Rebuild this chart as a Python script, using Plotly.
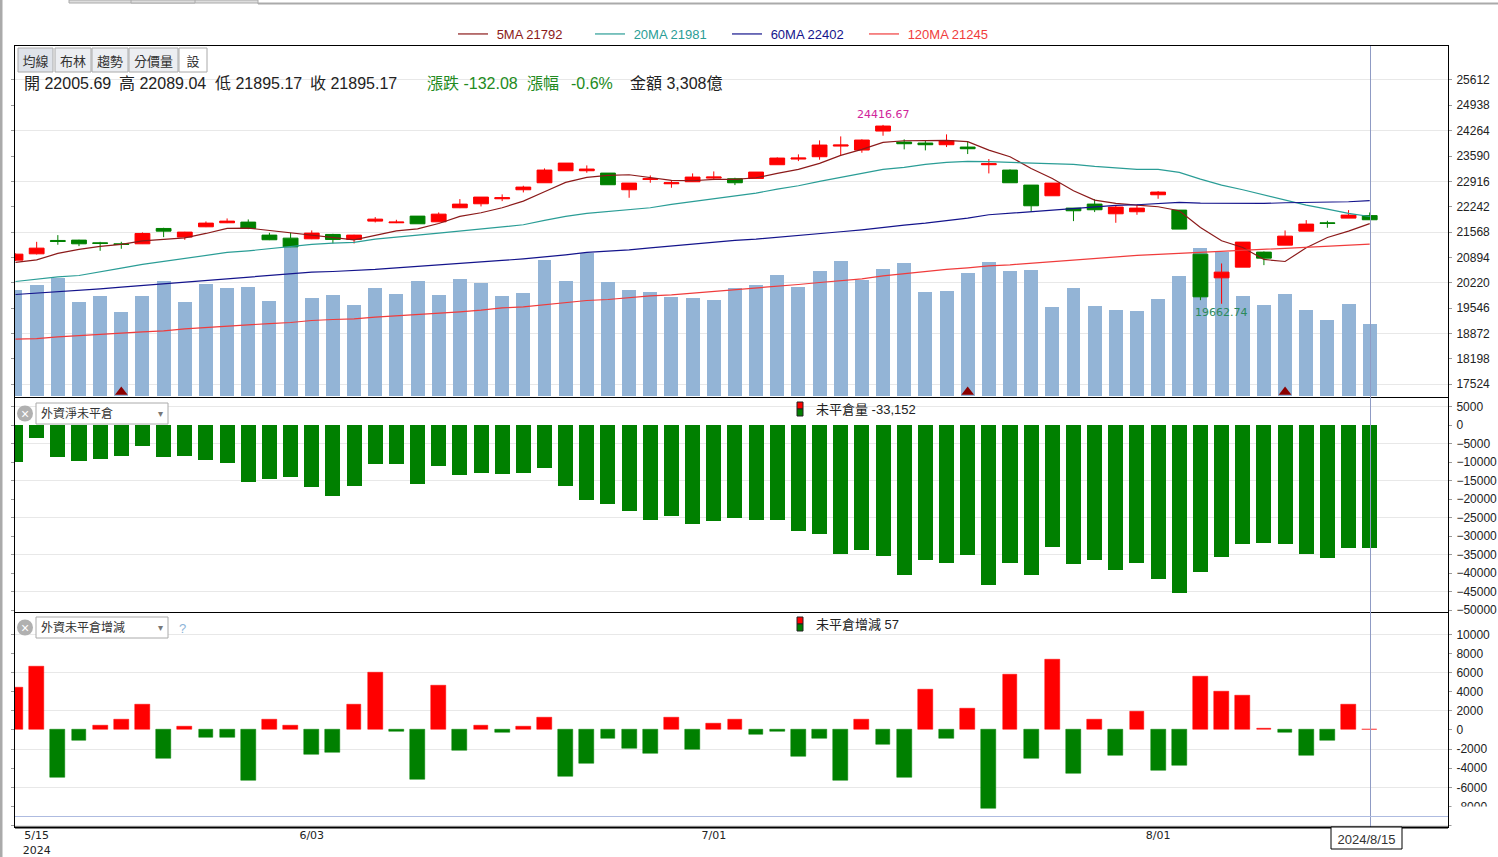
import plotly.graph_objects as go

W, H = 1498, 857

# daily index OHLC, 5/14 to 8/15 (trading session number on the x axis)
open_vals = [20822, 20990, 21345, 21354, 21283, 21256, 21256, 21664, 21434, 21708, 21815, 21833, 21487,
             21407, 21389, 21505, 21372, 21859, 21815, 21992, 21841, 22214, 22320, 22453, 22693, 22879,
             23198, 23198, 23136, 22693, 22968, 22852, 22906, 23003, 22985, 22994, 23358, 23509, 23571,
             23854, 23748, 24253, 23961, 23934, 23890, 23828, 23358, 23216, 22817, 22533, 22205, 22312,
             22054, 22108, 22560, 22152, 20981, 20352, 20636, 21035, 21221, 21593, 21815, 21939, 22005.69]
high_vals = [20999, 21309, 21487, 21363, 21309, 21309, 21558, 21682, 21575, 21850, 21930, 21904, 21549,
             21549, 21611, 21522, 21496, 21966, 21895, 21992, 22090, 22444, 22498, 22569, 22799, 23260,
             23402, 23340, 23136, 22870, 23074, 22950, 23127, 23180, 23012, 23163, 23553, 23633, 24005,
             24111, 24032, 24416.67, 24032, 23996, 24165, 23978, 23509, 23234, 22817, 22870, 22205, 22445,
             22285, 22294, 22657, 22152, 20981, 20733, 21301, 21052, 21611, 21886, 21868, 22152, 22089.04]
low_vals = [20804, 20973, 21230, 21194, 21070, 21123, 21250, 21434, 21363, 21700, 21806, 21646, 21354,
            21168, 21380, 21265, 21265, 21824, 21806, 21788, 21833, 22205, 22249, 22391, 22622, 22879,
            23198, 23145, 22826, 22480, 22879, 22746, 22906, 22950, 22817, 22994, 23358, 23455, 23491,
            23606, 23677, 24129, 23766, 23739, 23828, 23642, 23127, 22879, 22108, 22533, 21859, 22099,
            21815, 22028, 22453, 21647, 19758, 19662.74, 20636, 20689, 21221, 21593, 21682, 21939, 21895.17]
close_vals = [20981, 21141, 21318, 21256, 21265, 21238, 21531, 21593, 21567, 21806, 21859, 21664, 21363,
              21176, 21540, 21372, 21487, 21912, 21833, 21788, 22045, 22311, 22498, 22480, 22764, 23216,
              23402, 23243, 22826, 22870, 22985, 22879, 23030, 23030, 22879, 23163, 23535, 23535, 23881,
              23881, 24014, 24386, 23916, 23890, 23996, 23783, 23384, 22879, 22267, 22870, 22134, 22161,
              22232, 22205, 22631, 21647, 19847, 20503, 21301, 20875, 21460, 21780, 21797, 22019, 21895.17]

ma5 = [20760, 20831, 21000, 21106, 21186, 21239, 21336, 21381, 21416, 21531, 21664, 21673, 21611,
       21567, 21505, 21425, 21363, 21478, 21602, 21655, 21797, 21984, 22081, 22214, 22391, 22640,
       22888, 23021, 23074, 23092, 23021, 22941, 22932, 22968, 22968, 23012, 23127, 23234, 23393,
       23606, 23766, 23952, 23996, 23996, 24005, 23970, 23748, 23571, 23260, 22994, 22666, 22418,
       22329, 22285, 22241, 22134, 21691, 21336, 21159, 20840, 20786, 21150, 21425, 21593, 21792]
ma20 = [20254, 20317, 20379, 20414, 20520, 20609, 20707, 20786, 20857, 20928, 21026, 21070, 21123,
        21194, 21239, 21274, 21292, 21381, 21443, 21487, 21540, 21593, 21647, 21709, 21762, 21877,
        21983, 22063, 22107, 22161, 22214, 22303, 22374, 22462, 22533, 22604, 22710, 22799, 22914,
        23021, 23127, 23234, 23287, 23367, 23420, 23447, 23438, 23420, 23402, 23393, 23367, 23313,
        23278, 23234, 23234, 23154, 22977, 22817, 22693, 22560, 22418, 22285, 22179, 22063, 21981]
ma60 = [19909, 19944, 19980, 20024, 20059, 20104, 20148, 20201, 20246, 20299, 20343, 20387, 20432,
        20476, 20503, 20520, 20538, 20574, 20618, 20653, 20689, 20733, 20778, 20813, 20857, 20902,
        20964, 21026, 21052, 21097, 21150, 21203, 21239, 21301, 21345, 21380, 21434, 21478, 21531,
        21576, 21629, 21700, 21753, 21806, 21868, 21939, 22028, 22072, 22116, 22152, 22196, 22232,
        22276, 22294, 22329, 22356, 22338, 22329, 22320, 22329, 22347, 22356, 22356, 22374, 22402]
ma120 = [18720, 18738, 18783, 18809, 18836, 18880, 18916, 18942, 18995, 19031, 19084, 19111, 19137,
         19164, 19217, 19244, 19261, 19306, 19341, 19359, 19412, 19448, 19492, 19554, 19580, 19642,
         19705, 19749, 19776, 19829, 19873, 19900, 19944, 19997, 20033, 20077, 20139, 20175, 20228,
         20272, 20325, 20405, 20467, 20520, 20574, 20618, 20671, 20698, 20742, 20786, 20831, 20866,
         20911, 20946, 20973, 20999, 21026, 21044, 21079, 21106, 21123, 21150, 21185, 21212, 21245]

# turnover, 億
volume = [4824, 5052, 5400, 4278, 4551, 3823, 4551, 5234, 4278, 5097, 4915, 4961, 4323,
          7100, 4460, 4597, 4141, 4915, 4642, 5234, 4597, 5325, 5143, 4566, 4718, 6220,
          5264, 6538, 5218, 4854, 4763, 4536, 4490, 4400, 4945, 5082, 5537, 4991, 5719,
          6174, 5310, 5810, 6083, 4763, 4809, 5628, 6129, 5719, 5765, 4081, 4945, 4126,
          3944, 3899, 4445, 5492, 6766, 6584, 4581, 4172, 4672, 3944, 3489, 4217, 3308]

net_oi = [-9910, -3420, -8560, -9640, -9100, -8290, -5590, -8560, -8290, -9370, -10180, -15320, -14500,
          -13970, -16670, -19100, -16400, -10450, -10450, -15860, -10990, -13420, -12880, -13150, -12880, -11530,
          -16400, -20180, -21260, -23160, -25590, -24510, -26670, -25860, -25050, -25590, -25590, -28560, -29370,
          -34780, -33700, -35320, -40450, -36400, -37210, -35050, -43160, -37210, -40450, -32890, -37480, -36400,
          -39100, -37210, -41540, -45320, -39640, -35590, -32080, -31810, -32080, -34780, -35860, -33209, -33152]

oi_change = [4500, 6600, -4990, -1117, 420, 1047, 2620, -3000, 314, -838, -838, -5300, 1047,
             420, -2580, -2370, 2720, 5970, -150, -5200, 4710, -2160, 520, -310, 314, 1360,
             -4890, -3520, -940, -1950, -2480, 1256, -2060, 630, 1047, -420, -130, -2790, -940,
             -5300, 1150, -1535, -4990, 4190, -940, 2300, -8170, 5860, -3000, 7430, -4570, 1150,
             -2690, 1885, -4190, -3730, 5650, 3980, 3660, 110, -210, -2690, -1150, 2720, 57]

sessions = list(range(len(close_vals)))
signal_sessions = [5, 45, 60]
signal_level = [17320, 17320, 17320]

price_ticks = [25612, 24938, 24264, 23590, 22916, 22242, 21568, 20894, 20220, 19546, 18872, 18198, 17524]
net_ticks = [5000, 0, -5000, -10000, -15000, -20000, -25000, -30000, -35000, -40000, -45000, -50000]
change_ticks = [10000, 8000, 6000, 4000, 2000, 0, -2000, -4000, -6000, -8000, -10000]
change_labels = ["10000", "8000", "6000", "4000", "2000", "0", "-2000", "-4000", "-6000", "-8000", ""]
date_ticks = [1, 14, 33, 54]
date_labels = ["5/15<br>2024", "6/03", "7/01", "8/01"]

RED = "#ff0000"
GREEN = "#008000"
GRID = "#e8e8e8"
TICK_FONT = dict(family="Liberation Sans, Noto Sans CJK TC", size=12, color="#222222")
CJK = "Liberation Sans, Noto Sans CJK TC"


def fx(x):
    return x / W


def fy(y):
    return 1 - y / H


fig = go.Figure()

fig.add_trace(go.Bar(x=sessions, y=volume, width=0.66, marker=dict(color="#93b4d6", line_width=0),
                     xaxis="x", yaxis="y", showlegend=False))
fig.add_trace(go.Candlestick(x=sessions, open=open_vals, high=high_vals, low=low_vals, close=close_vals,
                             increasing=dict(line=dict(color=RED, width=1), fillcolor=RED),
                             decreasing=dict(line=dict(color=GREEN, width=1), fillcolor=GREEN),
                             whiskerwidth=0, xaxis="x", yaxis="y2", showlegend=False))
for name, vals, col in [("5MA 21792", ma5, "#8b1a1a"), ("20MA 21981", ma20, "#2a9d96"),
                        ("60MA 22402", ma60, "#14148c"), ("120MA 21245", ma120, "#f03c3c")]:
    fig.add_trace(go.Scatter(x=sessions, y=vals, mode="lines", line=dict(color=col, width=1.2),
                             name=f'&nbsp;<span style="color:{col}">{name}</span>', xaxis="x", yaxis="y2"))
fig.add_trace(go.Scatter(x=signal_sessions, y=signal_level, mode="markers",
                         marker=dict(symbol="triangle-up", size=11, color="#8b0000"),
                         xaxis="x", yaxis="y2", showlegend=False))

fig.add_trace(go.Bar(x=sessions, y=net_oi, width=0.71, marker=dict(color=GREEN, line_width=0),
                     xaxis="x2", yaxis="y3", showlegend=False))
change_colors = [RED if v >= 0 else GREEN for v in oi_change]
fig.add_trace(go.Bar(x=sessions, y=oi_change, width=0.7,
                     marker=dict(color=change_colors, line=dict(color=change_colors, width=0.5)),
                     xaxis="x3", yaxis="y4", showlegend=False))

x_range = [-0.024, 67.7]
x_common = dict(range=x_range, showgrid=False, zeroline=False, showline=True, mirror=True,
                linecolor="#000000", linewidth=1, rangeslider=dict(visible=False))
y_common = dict(showgrid=False, zeroline=False, showline=True, mirror="ticks", linecolor="#000000",
                linewidth=1, side="right", ticks="outside", ticklen=3, tickcolor="#999999",
                tickfont=TICK_FONT, ticklabelstandoff=2, tickformat="d")

fig.update_layout(
    width=W, height=H, autosize=False, margin=dict(l=0, r=0, t=0, b=0, autoexpand=False),
    paper_bgcolor="white", plot_bgcolor="white", boxgap=0.3, boxgroupgap=0, bargap=0,
    xaxis=dict(domain=[fx(15), fx(1448)], anchor="y2", showticklabels=False, ticks="", **x_common),
    xaxis2=dict(domain=[fx(15), fx(1448)], anchor="y3", matches="x", showticklabels=False, ticks="", **x_common),
    xaxis3=dict(domain=[fx(15), fx(1448)], anchor="y4", matches="x", tickmode="array", tickvals=date_ticks,
                ticktext=date_labels, ticks="", ticklabelstandoff=-2,
                tickfont=dict(family="DejaVu Sans", size=11, color="#222222"), **x_common),
    yaxis=dict(domain=[fy(397), fy(46)], range=[-30, 15940], visible=False),
    yaxis2=dict(domain=[fy(397), fy(46)], overlaying="y", anchor="x", range=[17184, 26514], tickmode="array",
                tickvals=price_ticks, minor=dict(tickmode="array", tickvals=price_ticks[::2], showgrid=True,
                                                 gridcolor=GRID, ticks=""), **y_common),
    yaxis3=dict(domain=[fy(612), fy(398)], anchor="x2", range=[-50540, 7297], tickmode="array",
                tickvals=net_ticks, minor=dict(tickmode="array", tickvals=net_ticks[::2], showgrid=True,
                                               gridcolor=GRID, ticks=""), **y_common),
    yaxis4=dict(domain=[fy(827), fy(612.5)], anchor="x3", range=[-10156, 12300], tickmode="array",
                tickvals=change_ticks, ticktext=change_labels,
                minor=dict(tickmode="array", tickvals=change_ticks[::2], showgrid=True, gridcolor=GRID, ticks=""),
                **y_common),
    legend=dict(orientation="h", x=fx(453), y=fy(34), xanchor="left", yanchor="middle",
                bgcolor="rgba(0,0,0,0)", font=dict(family=CJK, size=13), entrywidth=92, entrywidthmode="pixels",
                itemclick=False, itemdoubleclick=False),
)

shapes = []
annots = []


def add_box(x0, y0, x1, y1, fill, line, text="", size=13, pos="middle center", width=1):
    shape = dict(type="rect", xref="paper", yref="paper", x0=fx(x0), x1=fx(x1), y0=fy(y1), y1=fy(y0),
                 fillcolor=fill, line=dict(color=line, width=width), layer="above")
    if text:
        shape["label"] = dict(text=text, textposition=pos, padding=2,
                              font=dict(family=CJK, size=size, color="#333333"))
    shapes.append(shape)


def add_text(x, y, text, color="#222222", size=16, anchor="left"):
    annots.append(dict(xref="paper", yref="paper", x=fx(x), y=fy(y), text=text, showarrow=False, xanchor=anchor,
                       yanchor="middle", borderpad=0, font=dict(family=CJK, size=size, color=color)))


# page chrome
add_box(0, 0, 2, H, "#aaaaaa", "#aaaaaa")
add_box(69, 0, 258, 3, "#dddddd", "#aaaaaa")
add_box(131, 0, 195, 3, "#dddddd", "#aaaaaa")
add_box(258, 3, W, 4, "#aaaaaa", "#aaaaaa")

# indicator buttons
for x0, x1, label, fill in [(18, 53, "均線", "#dfe3ea"), (55, 91, "布林", "#eceef2"), (92, 128, "趨勢", "#eceef2"),
                            (129, 178, "分價量", "#eceef2"), (179, 207, "設", "#ffffff")]:
    add_box(x0, 48, x1, 72, fill, "#aaaaaa", label)

for txt, x, col in [("開 22005.69", 23, "#222222"), ("高 22089.04", 118, "#222222"), ("低 21895.17", 214, "#222222"),
                    ("收 21895.17", 309, "#222222"), ("漲跌 -132.08", 426, "#228b22"), ("漲幅", 526, "#228b22"),
                    ("-0.6%", 570, "#228b22"), ("金額 3,308億", 629, "#222222")]:
    add_text(x, 83, txt, col)

# sub panel selectors
for y0, y1, label in [(403, 424, "外資淨未平倉"), (617, 638, "外資未平倉增減")]:
    add_box(36, y0, 168, y1, "#ffffff", "#aaaaaa", label, size=12, pos="middle left")
    add_text(160, (y0 + y1) / 2, "▾", "#777777", 10, "center")
    cy = (y0 + y1) / 2
    shapes.append(dict(type="circle", xref="paper", yref="paper", x0=fx(17), x1=fx(33), y0=fy(cy + 8), y1=fy(cy - 8),
                       fillcolor="#b0b0b0", line=dict(width=0), layer="above"))
    add_text(25, cy, "×", "#ffffff", 14, "center")
add_text(182, 628, "?", "#8db4d8", 13, "center")

# panel readouts
for y, label in [(409, "未平倉量 -33,152"), (624, "未平倉增減 57")]:
    add_box(797, y - 7, 803, y, RED, "#222222")
    add_box(797, y, 803, y + 7, GREEN, "#222222")
    add_text(815, y, label, "#222222", 13)

# crosshair and date tag
shapes.append(dict(type="line", xref="paper", yref="paper", x0=fx(1370.5), x1=fx(1370.5), y0=fy(827), y1=fy(46),
                   line=dict(color="#8f9bc4", width=1), layer="above"))
shapes.append(dict(type="line", xref="paper", yref="paper", x0=fx(15), x1=fx(1448), y0=fy(816.5), y1=fy(816.5),
                   line=dict(color="#aebbe0", width=1), layer="above"))
shapes.append(dict(type="line", xref="paper", yref="paper", x0=fx(15), x1=fx(1448), y0=fy(827.5), y1=fy(827.5),
                   line=dict(color="#000000", width=2), layer="above"))
add_box(1331, 827, 1402, 849, "#ffffff", "#000000", "2024/8/15", size=13)

# the -8000 label is cut off in the panel
add_box(1451, 807, W, 825, "#ffffff", "#ffffff")

# high / low tags
annots.append(dict(xref="x", yref="y2", x=41, y=24416.67, text="24416.67", showarrow=False, yanchor="bottom", yshift=2,
                   font=dict(family="DejaVu Sans", size=11, color="#d0259b")))
annots.append(dict(xref="x", yref="y2", x=57, y=19662.74, text="19662.74", showarrow=False, yanchor="top", yshift=0,
                   font=dict(family="DejaVu Sans", size=11, color="#2a8a5a")))

fig.update_layout(shapes=shapes, annotations=annots)

fig.write_html("out.html", config=dict(displayModeBar=False),
               post_script="document.body.style.margin='0';document.body.style.overflow='hidden';")
